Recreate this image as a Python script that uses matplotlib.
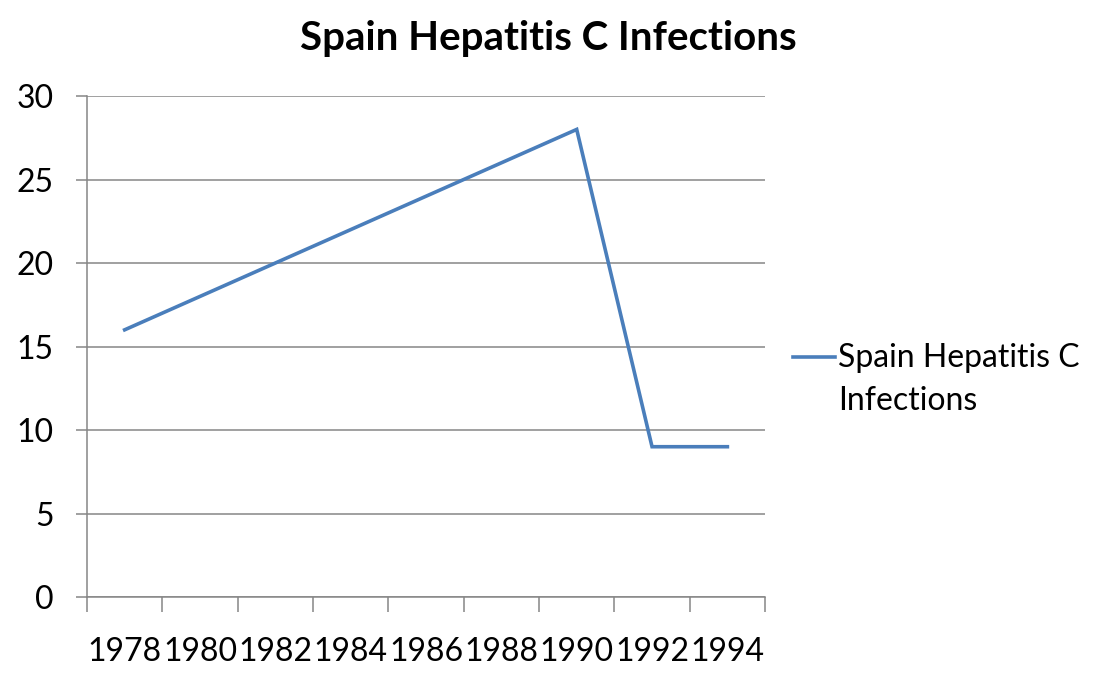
import matplotlib
matplotlib.use("Agg")
import matplotlib.pyplot as plt
from matplotlib.lines import Line2D
from matplotlib.ticker import FixedLocator, MultipleLocator

# Data
categories = ["1978", "1980", "1982", "1984", "1986", "1988", "1990", "1992", "1994"]
values = [16, None, None, None, None, None, 28, 9, 9]
series_name = "Spain Hepatitis C\nInfections"
title = "Spain Hepatitis C Infections"

plt.rcParams['font.family'] = ['Lato', 'DejaVu Sans']

fig = plt.figure(figsize=(10.97, 6.82), dpi=100)
ax = fig.add_axes([0.0793, 0.1246, 0.6181, 0.7346])

line_color = "#4A7EBB"
xs = [i for i, v in enumerate(values) if v is not None]
ys = [v for v in values if v is not None]
line, = ax.plot(xs, ys, color=line_color, linewidth=2.6, solid_joinstyle="miter")

ax.set_xlim(-0.5, len(categories) - 0.5)
ax.set_ylim(0, 30)
ax.yaxis.set_major_locator(MultipleLocator(5))
ax.grid(axis="y", color="#868686", linewidth=1.1)
ax.set_axisbelow(True)

ax.set_xticks(range(len(categories)))
ax.set_xticklabels(categories)
ax.xaxis.set_minor_locator(FixedLocator([i - 0.5 for i in range(len(categories) + 1)]))
ax.tick_params(axis="x", which="major", length=0, pad=29, labelsize=23, colors="black")
ax.tick_params(axis="x", which="minor", length=11, width=1.1, color="#868686")
ax.tick_params(axis="y", length=8, width=1.1, color="#868686", pad=16, labelsize=23)

for s in ["top", "right"]:
    ax.spines[s].set_visible(False)
for s in ["left", "bottom"]:
    ax.spines[s].set_color("#868686")
    ax.spines[s].set_linewidth(1.1)

fig.text(0.5, 0.943, title, ha="center", va="center", fontsize=29, fontweight="bold")

# Legend (Excel style: handle aligned with first line of wrapped label)
W, H = 1097.0, 682.0
fig.add_artist(Line2D([793 / W, 835 / W], [1 - 357 / H, 1 - 357 / H],
                      color=line_color, linewidth=2.6, transform=fig.transFigure))
fig.text(838 / W, 1 - 343 / H, series_name, ha="left", va="top", fontsize=23,
         linespacing=1.55)

fig.savefig("out.png", dpi=100)
